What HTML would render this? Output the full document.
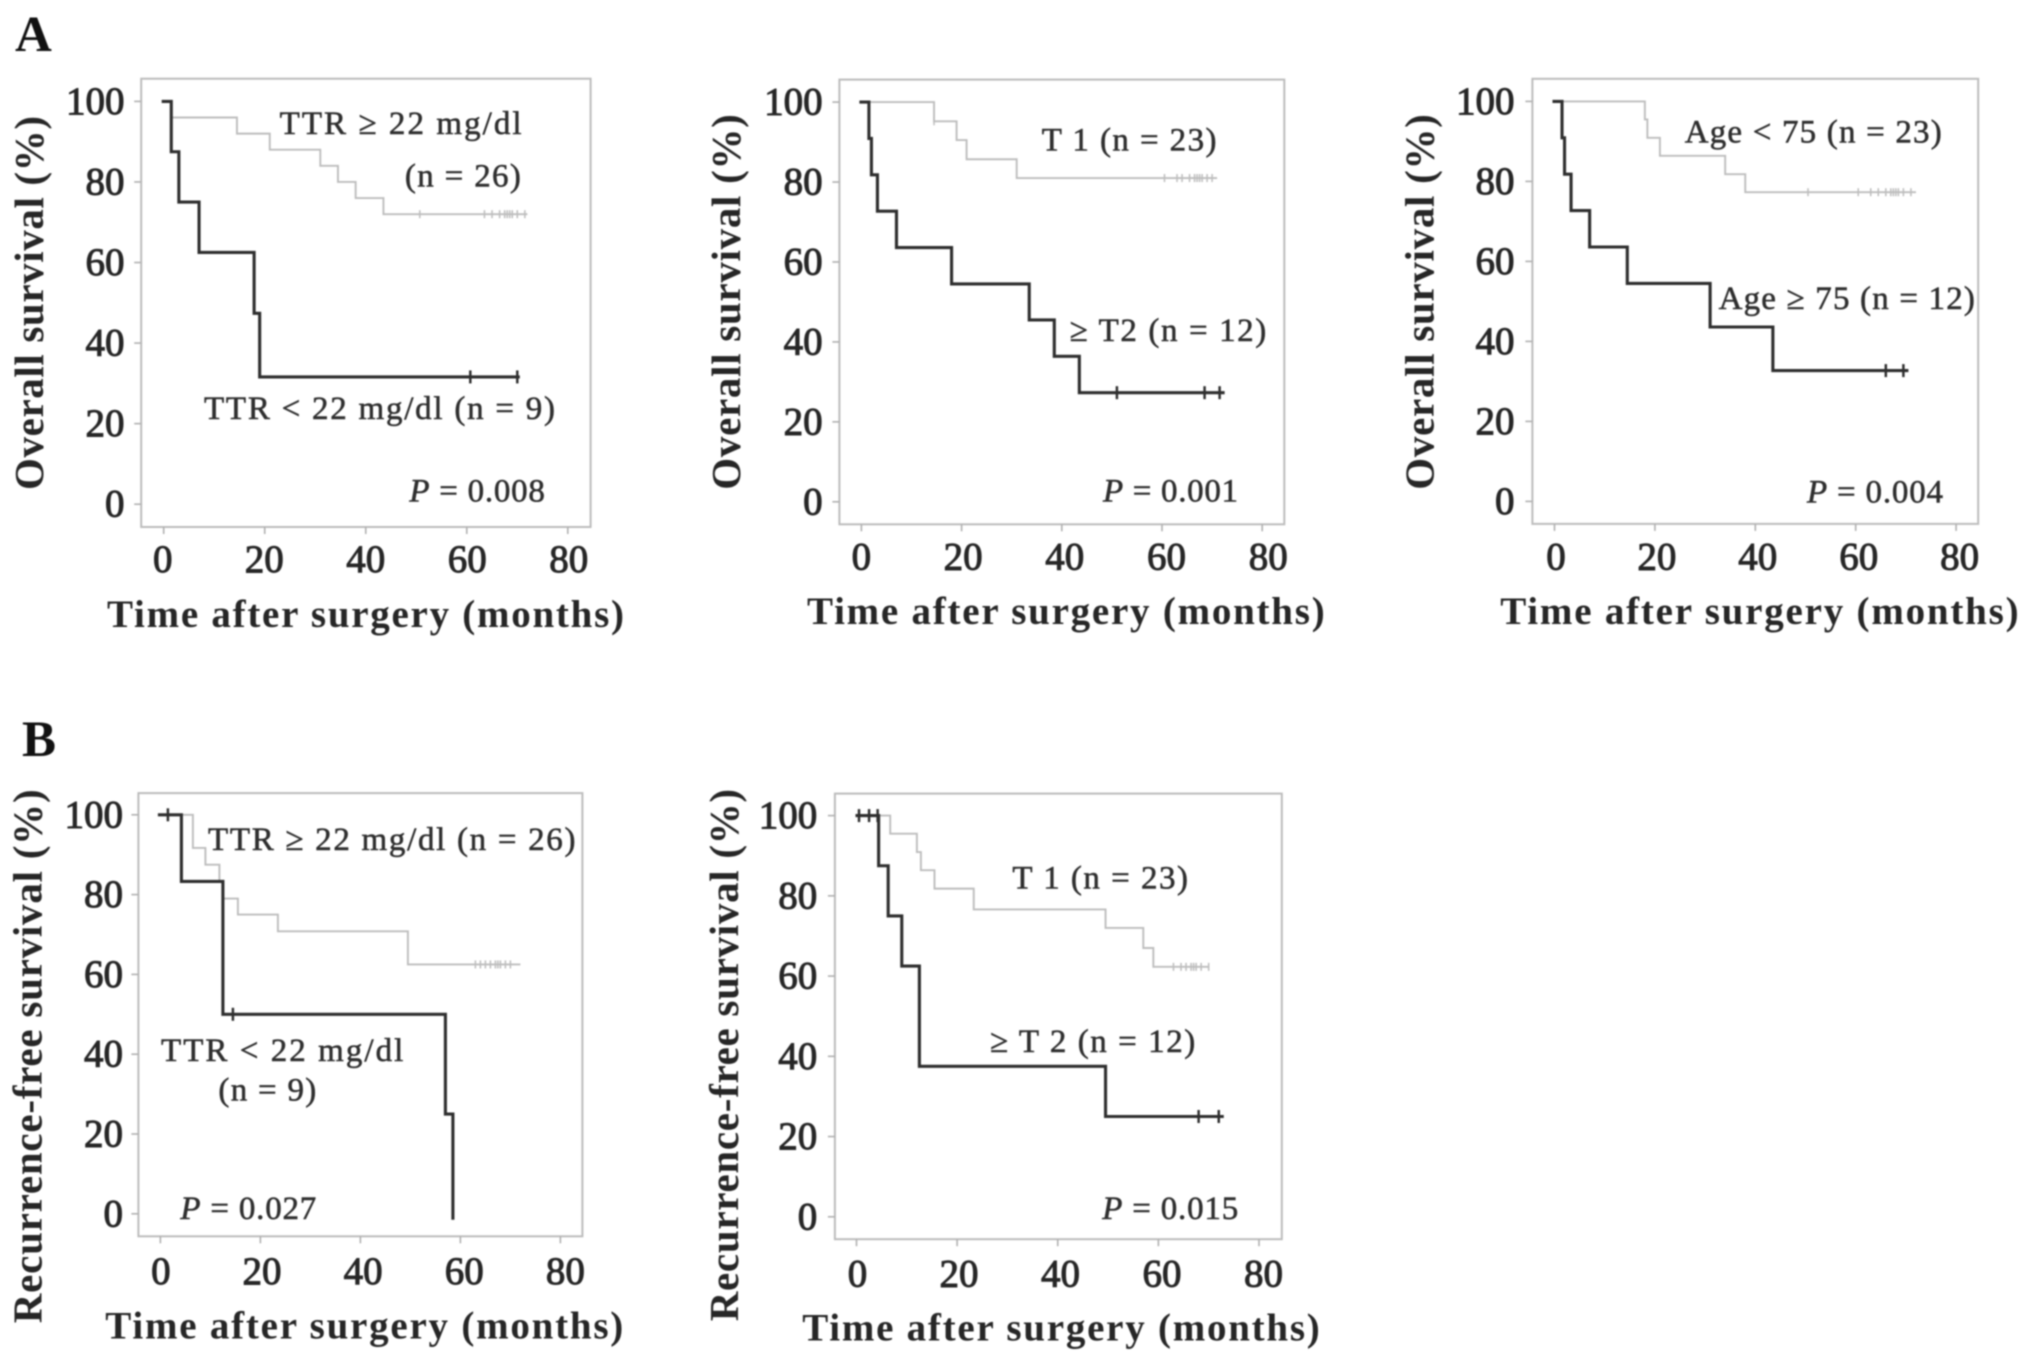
<!DOCTYPE html>
<html lang="en">
<head>
<meta charset="utf-8">
<title>Kaplan-Meier survival curves</title>
<style>
html,body{margin:0;padding:0;background:#fff;width:2031px;height:1365px;overflow:hidden}
svg{display:block;filter:blur(0.9px)}
text{font-family:"Liberation Serif",serif;fill:#262626}
.axis-title{font-size:39px;font-weight:bold}
.y-title{font-size:41px}
.tick-label{font-size:39px;stroke:#262626;stroke-width:1px}
.note{font-size:33px;fill:#2e2e2e;stroke:#2e2e2e;stroke-width:.55px}
.letter{font-size:51px;font-weight:bold;fill:#111}
.frame{fill:none;stroke:#bcbcbc;stroke-width:2}
</style>
</head>
<body>
<svg id="fig" xmlns="http://www.w3.org/2000/svg" width="2031" height="1365" viewBox="0 0 2031 1365">
  <text class="letter" x="15" y="51">A</text>
  <text class="letter" x="22" y="756">B</text>

  <g id="a1">
    <rect class="frame" x="141.2" y="78.7" width="449.4" height="448.3"/>
    <text class="axis-title" x="107" y="627" textLength="517">Time after surgery (months)</text>
    <text class="axis-title y-title" transform="translate(43,490) rotate(-90)" textLength="374">Overall survival (%)</text>
    <text class="note" x="279.6" y="133.8" textLength="242">TTR ≥ 22 mg/dl</text>
    <text class="note" x="404.9" y="186.4" textLength="116">(n = 26)</text>
    <text class="note" x="204" y="418.8" textLength="351">TTR &lt; 22 mg/dl (n = 9)</text>
    <text class="note" x="409.4" y="501.7" textLength="135.5"><tspan font-style="italic">P</tspan> = 0.008</text>
  </g>

  <g id="a2">
    <rect class="frame" x="839.4" y="79.6" width="444.9" height="444.7"/>
    <text class="axis-title" x="807" y="624" textLength="517.7">Time after surgery (months)</text>
    <text class="axis-title y-title" transform="translate(739.8,489.7) rotate(-90)" textLength="375.5">Overall survival (%)</text>
    <text class="note" x="1041.8" y="150.4" textLength="174.7">T 1 (n = 23)</text>
    <text class="note" x="1069.6" y="341" textLength="196.7">≥ T2 (n = 12)</text>
    <text class="note" x="1103" y="501.4" textLength="135"><tspan font-style="italic">P</tspan> = 0.001</text>
  </g>

  <g id="a3">
    <rect class="frame" x="1532.4" y="78.8" width="445.8" height="445.1"/>
    <text class="axis-title" x="1500.2" y="624" textLength="518.4">Time after surgery (months)</text>
    <text class="axis-title y-title" transform="translate(1433.7,489.7) rotate(-90)" textLength="375.5">Overall survival (%)</text>
    <text class="note" x="1684.7" y="142.6" textLength="257">Age &lt; 75 (n = 23)</text>
    <text class="note" x="1718.6" y="308.8" textLength="256.3">Age ≥ 75 (n = 12)</text>
    <text class="note" x="1807" y="502.5" textLength="136"><tspan font-style="italic">P</tspan> = 0.004</text>
  </g>

  <g id="b1">
    <rect class="frame" x="138.4" y="793.1" width="444" height="443.2"/>
    <text class="axis-title" x="105.3" y="1338.6" textLength="518">Time after surgery (months)</text>
    <text class="axis-title y-title" transform="translate(41.6,1323.2) rotate(-90)" textLength="533.8">Recurrence-free survival (%)</text>
    <text class="note" x="208" y="850" textLength="367.5">TTR ≥ 22 mg/dl (n = 26)</text>
    <text class="note" x="161" y="1060.9" textLength="242.3">TTR &lt; 22 mg/dl</text>
    <text class="note" x="218.4" y="1100.6" textLength="97.9">(n = 9)</text>
    <text class="note" x="180.4" y="1218.8" textLength="135.9"><tspan font-style="italic">P</tspan> = 0.027</text>
  </g>

  <g id="b2">
    <rect class="frame" x="834.9" y="793.6" width="446.9" height="445.6"/>
    <text class="axis-title" x="802.2" y="1340.5" textLength="517.6">Time after surgery (months)</text>
    <text class="axis-title y-title" transform="translate(738.2,1321.3) rotate(-90)" textLength="532.4">Recurrence-free survival (%)</text>
    <text class="note" x="1012.4" y="888.5" textLength="175.6">T 1 (n = 23)</text>
    <text class="note" x="990" y="1052" textLength="205.3">≥ T 2 (n = 12)</text>
    <text class="note" x="1102.2" y="1219" textLength="136"><tspan font-style="italic">P</tspan> = 0.015</text>
  </g>
</svg>

<script>
// Axis tick labels
const xTicks = [0, 20, 40, 60, 80];
const yTicks = [0, 20, 40, 60, 80, 100];

// A1: overall survival by TTR
const a1LowTimes = [-0.4, 1.5, 3, 7, 17.9, 19, 70.5];
const a1LowSurv = [100, 87.5, 75, 62.5, 47.4, 31.6, 31.6];
const a1LowCensor = [60.7, 70];
const a1HighTimes = [0, 1.5, 14.5, 21, 31, 34.5, 38, 43.5, 72];
const a1HighSurv = [100, 96, 92, 88, 84, 80, 76, 72, 72];
const a1HighCensor = [50.7, 63.5, 65, 66.5, 67.5, 68, 68.5, 69, 70, 71.5];

// A2: overall survival by T stage
const a2LowTimes = [-0.4, 1.5, 2, 3.2, 7, 18, 33.5, 38.5, 43.5, 72.5];
const a2LowSurv = [100, 90.9, 81.8, 72.7, 63.6, 54.5, 45.5, 36.4, 27.3, 27.3];
const a2LowCensor = [51, 68.5, 71.5];
const a2HighTimes = [0, 14.5, 19, 21, 31, 71];
const a2HighSurv = [100, 95.2, 90.5, 85.7, 81, 81];
const a2HighCensor = [14.5, 60.5, 63, 64, 65.5, 66.5, 67, 67.5, 68, 69, 70];

// A3: overall survival by age
const a3LowTimes = [-0.4, 1.5, 2, 3.3, 7, 14.5, 31, 43.5, 70.5];
const a3LowSurv = [100, 90.9, 81.8, 72.7, 63.6, 54.5, 43.6, 32.7, 32.7];
const a3LowCensor = [66, 69.5];
const a3HighTimes = [0, 18, 18.5, 21, 34, 38, 72];
const a3HighSurv = [100, 95.5, 90.9, 86.4, 81.8, 77.3, 77.3];
const a3HighCensor = [50.5, 60.5, 63, 64.5, 66, 67, 67.5, 68, 68.5, 69.5, 71];

// B1: recurrence-free survival by TTR
const b1LowTimes = [-0.5, 4.2, 12.5, 57, 58.5, 58.5];
const b1LowSurv = [100, 83.3, 50, 25, -1.5, -1.5];
const b1LowCensor = [1.5, 14.5];
const b1HighTimes = [0, 6.5, 9, 11.8, 12.5, 15.5, 23.5, 49.5, 72];
const b1HighSurv = [100, 91.7, 87.5, 83.3, 79, 75, 70.8, 62.5, 62.5];
const b1HighCensor = [63, 64, 65, 66, 67, 67.5, 68, 69, 70];

// B2: recurrence-free survival by T stage
const b2LowTimes = [-0.2, 4.4, 6.3, 9, 12.5, 49.5, 73];
const b2LowSurv = [100, 87.5, 75, 62.5, 37.5, 25, 25];
const b2LowCensor = [0.5, 2.5, 4.2, 68, 72];
const b2HighTimes = [0, 6.7, 12, 12.8, 15.5, 23.3, 49.5, 57, 59, 70];
const b2HighSurv = [100, 95.5, 90.9, 86.4, 81.8, 76.6, 72, 67, 62.3, 62.3];
const b2HighCensor = [63, 64.5, 65.5, 66.5, 67, 67.5, 68.5, 70];

// Panel layout: pixel anchors of the axes, kept apart from the data.
// shift0 / shift80 nudge the x tick labels relative to their ticks.
const layouts = {
  a1: {x0: 163.7, x80: 567.8, y100: 101.4, y0: 504.2, left: 141.2, bottom: 527, labelRight: 124.5, labelBase: 572, shift0: -1, shift80: 1},
  a2: {x0: 861.4, x80: 1262.2, y100: 102.1, y0: 501.8, left: 839.4, bottom: 524.3, labelRight: 822.6, labelBase: 569.5, shift0: 0, shift80: 6},
  a3: {x0: 1554.5, x80: 1956.1, y100: 101.4, y0: 501.4, left: 1532.4, bottom: 523.9, labelRight: 1514.5, labelBase: 569.5, shift0: 1.5, shift80: 3.5},
  b1: {x0: 160.4, x80: 560.4, y100: 814.8, y0: 1213.8, left: 138.4, bottom: 1236.3, labelRight: 123, labelBase: 1284, shift0: 0.5, shift80: 5},
  b2: {x0: 856.5, x80: 1259, y100: 815.6, y0: 1216.8, left: 834.9, bottom: 1239.2, labelRight: 817.3, labelBase: 1286.6, shift0: 1, shift80: 4.5}
};

const seriesByPanel = {
  a1: {low: [a1LowTimes, a1LowSurv, a1LowCensor], high: [a1HighTimes, a1HighSurv, a1HighCensor]},
  a2: {low: [a2LowTimes, a2LowSurv, a2LowCensor], high: [a2HighTimes, a2HighSurv, a2HighCensor]},
  a3: {low: [a3LowTimes, a3LowSurv, a3LowCensor], high: [a3HighTimes, a3HighSurv, a3HighCensor]},
  b1: {low: [b1LowTimes, b1LowSurv, b1LowCensor], high: [b1HighTimes, b1HighSurv, b1HighCensor]},
  b2: {low: [b2LowTimes, b2LowSurv, b2LowCensor], high: [b2HighTimes, b2HighSurv, b2HighCensor]}
};

const NS = 'http://www.w3.org/2000/svg';

function xScale(p, v) { return p.x0 + (v / 80) * (p.x80 - p.x0); }
function yScale(p, v) { return p.y0 - (v / 100) * (p.y0 - p.y100); }

function line(parent, x1, y1, x2, y2, color, width) {
  const el = document.createElementNS(NS, 'line');
  el.setAttribute('x1', x1);
  el.setAttribute('y1', y1);
  el.setAttribute('x2', x2);
  el.setAttribute('y2', y2);
  el.setAttribute('stroke', color);
  el.setAttribute('stroke-width', width);
  parent.appendChild(el);
  return el;
}

function tickLabel(parent, x, y, anchor, str) {
  const el = document.createElementNS(NS, 'text');
  el.setAttribute('class', 'tick-label');
  el.setAttribute('x', x);
  el.setAttribute('y', y);
  el.setAttribute('text-anchor', anchor);
  el.textContent = str;
  parent.appendChild(el);
  return el;
}

function drawAxes(group, p) {
  xTicks.forEach(function (t) {
    const x = xScale(p, t);
    const tick = line(group, x, p.bottom, x, p.bottom + 7, '#b0b0b0', 1.6);
    
    
    const offset = p.shift0 + (t / 80) * (p.shift80 - p.shift0);
    const label = tickLabel(group, x + offset, p.labelBase, 'middle', String(t));
    
    
  });
  yTicks.forEach(function (t) {
    const y = yScale(p, t);
    const tick = line(group, p.left - 7, y, p.left, y, '#b0b0b0', 1.6);
    
    
    const label = tickLabel(group, p.labelRight, y + 12.5, 'end', String(t));
    
    
  });
}

function stepPath(p, times, surv) {
  let d = 'M' + xScale(p, times[0]) + ' ' + yScale(p, surv[0]);
  for (let i = 1; i < times.length; i++) {
    d += 'H' + xScale(p, times[i]) + 'V' + yScale(p, surv[i]);
  }
  return d;
}

function survivalAt(times, surv, t) {
  let s = surv[0];
  for (let i = 0; i < times.length; i++) {
    if (times[i] <= t) s = surv[i];
  }
  return s;
}

function drawSeries(group, p, data, color, width, markHalf, curveName, censorName) {
  const times = data[0], surv = data[1], censor = data[2];
  const path = document.createElementNS(NS, 'path');
  path.setAttribute('d', stepPath(p, times, surv));
  path.setAttribute('fill', 'none');
  path.setAttribute('stroke', color);
  path.setAttribute('stroke-width', width);
  
  
  group.appendChild(path);
  censor.forEach(function (t) {
    const x = xScale(p, t);
    const y = yScale(p, survivalAt(times, surv, t));
    const mark = line(group, x, y - markHalf, x, y + markHalf, color, width * 0.8);
    
    
  });
}

Object.keys(layouts).forEach(function (id) {
  const group = document.getElementById(id);
  const p = layouts[id];
  drawAxes(group, p);
  drawSeries(group, p, seriesByPanel[id].high, '#bdbdbd', 1.9, 4, 'curve-favourable-group', 'censor-mark-favourable');
  drawSeries(group, p, seriesByPanel[id].low, '#2e2e2e', 3.1, 6.5, 'curve-unfavourable-group', 'censor-mark-unfavourable');
});
</script>
</body>
</html>
